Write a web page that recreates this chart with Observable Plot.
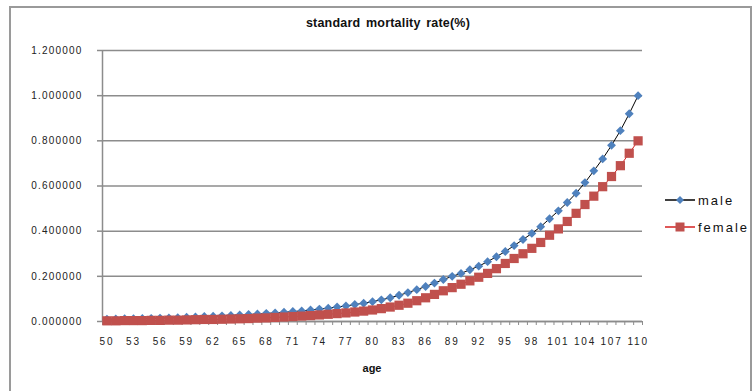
<!DOCTYPE html>
<html><head><meta charset="utf-8">
<script src="https://cdn.jsdelivr.net/npm/d3@7"></script>
<script src="https://cdn.jsdelivr.net/npm/@observablehq/plot@0.6"></script>
<style>
body{margin:0;background:#fff;}
#wrap{position:relative;width:753px;height:391px;overflow:hidden;font-family:"Liberation Sans",Arial,sans-serif;background:#fff;}
#wrap svg.plot{position:absolute;left:0;top:0;}
#frame{position:absolute;left:9px;top:6px;width:743px;height:420px;border:2px solid #9a9a9a;box-sizing:border-box;pointer-events:none;}
#title{position:absolute;left:278px;width:220px;top:16px;text-align:center;font-weight:bold;font-size:12.5px;color:#111;word-spacing:2px;letter-spacing:0.2px;}
#xlab{position:absolute;left:342px;width:60px;top:362px;text-align:center;font-weight:bold;font-size:11px;color:#111;}
.leg{position:absolute;left:664px;height:20px;display:flex;align-items:center;font-size:13px;letter-spacing:2px;color:#111;}
.leg svg{margin-right:2px;}
[aria-label="y-axis tick label"] text{letter-spacing:1.2px;}
[aria-label="x-axis tick label"] text{letter-spacing:1.8px;}
</style>
</head><body>
<div id="wrap">
  <div id="title">standard mortality rate(%)</div>
  <div id="xlab">age</div>
  <div class="leg" style="top:190px"><svg width="32" height="12"><line x1="1" x2="31" y1="6" y2="6" stroke="#000" stroke-width="1.5"/><path d="M16,2 L20,6 L16,10 L12,6Z" fill="#4f81bd"/></svg>male</div>
  <div class="leg" style="top:217px"><svg width="32" height="12"><line x1="1" x2="31" y1="6" y2="6" stroke="#d42020" stroke-width="1.5"/><rect x="11.5" y="1.5" width="9" height="9" fill="#c0504d"/></svg>female</div>
  <div id="frame"></div>
</div>
<script>
const ages = d3.range(50, 111);
const male = [
  0.010, 0.011, 0.012, 0.012, 0.013, 0.014, 0.015, 0.016, 0.017, 0.019,
  0.020, 0.022, 0.023, 0.025, 0.027, 0.029, 0.031, 0.033, 0.036, 0.038,
  0.041, 0.044, 0.047, 0.051, 0.055, 0.059, 0.064, 0.069, 0.075, 0.081,
  0.088, 0.096, 0.105, 0.116, 0.128, 0.141, 0.155, 0.170, 0.186, 0.200,
  0.213, 0.229, 0.245, 0.265, 0.287, 0.310, 0.336, 0.363, 0.390, 0.420,
  0.455, 0.490, 0.527, 0.568, 0.615, 0.667, 0.720, 0.780, 0.845, 0.920,
  1.000
];
const female = [
  0.003, 0.003, 0.004, 0.004, 0.004, 0.005, 0.005, 0.006, 0.006, 0.007,
  0.008, 0.009, 0.009, 0.010, 0.011, 0.012, 0.013, 0.015, 0.016, 0.018,
  0.020, 0.022, 0.024, 0.026, 0.029, 0.032, 0.035, 0.038, 0.042, 0.046,
  0.051, 0.057, 0.064, 0.072, 0.081, 0.092, 0.105, 0.120, 0.136, 0.150,
  0.165, 0.180, 0.196, 0.213, 0.234, 0.257, 0.279, 0.300, 0.324, 0.350,
  0.382, 0.410, 0.443, 0.479, 0.518, 0.555, 0.597, 0.642, 0.690, 0.745,
  0.800
];
const yTicks = [0, 0.2, 0.4, 0.6, 0.8, 1.0, 1.2];
const xLabels = [50, 53, 56, 59, 62, 65, 68, 71, 74, 77, 80, 83, 86, 89, 92, 95, 98, 101, 104, 107, 110];

const maleRows = ages.map((a, i) => ({age: a, v: male[i]}));
const femaleRows = ages.map((a, i) => ({age: a, v: female[i]}));
const boundaries = d3.range(ages.length + 1).map(i => ages[0] - 0.5 + i);
const axisColor = "#8c8c8c";

const chart = Plot.plot({
  width: 753, height: 391,
  marginLeft: 102, marginRight: 111, marginTop: 50, marginBottom: 70,
  style: {background: "transparent", fontFamily: "'Liberation Sans', Arial, sans-serif", overflow: "visible"},
  x: {type: "linear", domain: [ages[0] - 0.5, ages[ages.length - 1] + 0.5]},
  y: {domain: [0, 1.2]},
  marks: [
    Plot.gridY(yTicks, {stroke: axisColor, strokeOpacity: 1, strokeWidth: 1.5}),
    Plot.axisY(yTicks, {tickSize: 5, tickPadding: 15, tickFormat: d => d.toFixed(6), stroke: axisColor, strokeWidth: 1.5, fontSize: 10, fill: "#222", label: null}),
    Plot.ruleX([ages[0] - 0.5], {stroke: axisColor, strokeWidth: 1.5}),
    Plot.ruleY([0], {stroke: axisColor, strokeWidth: 1.5}),
    Plot.axisX(boundaries, {tickSize: 4, tickFormat: () => "", stroke: axisColor, strokeWidth: 1, label: null}),
    Plot.axisX(xLabels, {tickSize: 0, tickPadding: 16, fontSize: 10, fill: "#222", label: null}),
    Plot.line(maleRows, {x: "age", y: "v", stroke: "#000", strokeWidth: 1}),
    Plot.dot(maleRows, {x: "age", y: "v", symbol: "diamond2", r: 4, fill: "#4f81bd", stroke: "none"}),
    Plot.line(femaleRows, {x: "age", y: "v", stroke: "#d42020", strokeWidth: 1}),
    Plot.dot(femaleRows, {x: "age", y: "v", symbol: "square", r: 5.2, fill: "#c0504d", stroke: "none"})
  ]
});
chart.classList.add("plot");
document.getElementById("wrap").insertBefore(chart, document.getElementById("wrap").firstChild);
</script>
</body></html>
